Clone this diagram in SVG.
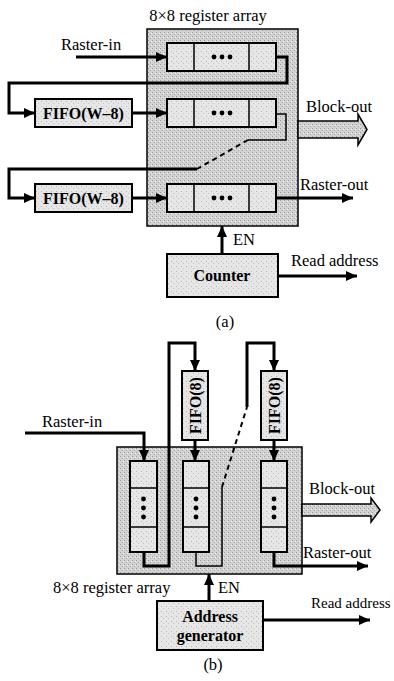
<svg xmlns="http://www.w3.org/2000/svg" width="394" height="681" viewBox="0 0 394 681">
<defs>
<pattern id="dark" width="4" height="4" patternUnits="userSpaceOnUse">
<rect width="4" height="4" fill="#d2d2d2"/>
<rect x="0" y="0" width="1" height="1" fill="#9a9a9a"/>
<rect x="2" y="2" width="1" height="1" fill="#a8a8a8"/>
<rect x="3" y="1" width="1" height="1" fill="#f0f0f0"/>
</pattern>
<pattern id="light" width="5" height="5" patternUnits="userSpaceOnUse">
<rect width="5" height="5" fill="#e6e6e6"/>
<rect x="1" y="1" width="1" height="1" fill="#b8b8b8"/>
<rect x="3" y="3" width="1" height="1" fill="#c4c4c4"/>
</pattern>
<marker id="ah" markerUnits="userSpaceOnUse" markerWidth="11" markerHeight="10" refX="11" refY="5" orient="auto">
<path d="M0,0 L11,5 L0,10 z" fill="#000"/>
</marker>
</defs>
<style>
.t{font-family:"Liberation Serif","Times New Roman",serif;font-size:16.5px;fill:#000}
.b{font-family:"Liberation Serif","Times New Roman",serif;font-size:16px;font-weight:bold;fill:#000}
.big{fill:url(#dark);stroke:#000;stroke-width:1.5}
.box{fill:url(#light);stroke:#000;stroke-width:2}
.w{fill:none;stroke:#000;stroke-width:3}
.th{fill:none;stroke:#000;stroke-width:1.5}
.ds{fill:none;stroke:#000;stroke-width:2;stroke-dasharray:5,4}
.bo{fill:url(#dark);stroke:#000;stroke-width:1.5}
</style>

<!-- (a) -->
<g id="a-array">
<rect class="big" x="147" y="29" width="151" height="197"/>
<text class="t" x="208" y="21" text-anchor="middle">8×8 register array</text>
</g>
<g id="a-row1">
<rect class="box" x="167" y="43" width="109" height="28"/>
<line class="th" x1="194" y1="43" x2="194" y2="71"/><line class="th" x1="249" y1="43" x2="249" y2="71"/>
<circle cx="214" cy="57" r="2.4"/><circle cx="222" cy="57" r="2.4"/><circle cx="230" cy="57" r="2.4"/>
</g>
<g id="a-row2">
<rect class="box" x="167" y="99" width="109" height="28"/>
<line class="th" x1="194" y1="99" x2="194" y2="127"/><line class="th" x1="249" y1="99" x2="249" y2="127"/>
<circle cx="214" cy="113" r="2.4"/><circle cx="222" cy="113" r="2.4"/><circle cx="230" cy="113" r="2.4"/>
</g>
<g id="a-row3">
<rect class="box" x="167" y="184" width="109" height="28"/>
<line class="th" x1="194" y1="184" x2="194" y2="212"/><line class="th" x1="249" y1="184" x2="249" y2="212"/>
<circle cx="214" cy="198" r="2.4"/><circle cx="222" cy="198" r="2.4"/><circle cx="230" cy="198" r="2.4"/>
</g>
<g id="a-fifo1">
<rect class="box" x="35" y="99" width="97" height="28"/>
<text class="b" x="83.5" y="119" text-anchor="middle">FIFO(W–8)</text>
</g>
<g id="a-fifo2">
<rect class="box" x="35" y="184" width="97" height="28"/>
<text class="b" x="83.5" y="204" text-anchor="middle">FIFO(W–8)</text>
</g>
<g id="a-counter">
<rect class="box" x="167" y="254" width="111" height="43"/>
<text class="b" x="222" y="281" text-anchor="middle">Counter</text>
</g>
<g id="a-labels">
<text class="t" x="61" y="50">Raster-in</text>
<text class="t" x="306" y="112">Block-out</text>
<text class="t" x="300" y="190">Raster-out</text>
<text class="t" x="233" y="245">EN</text>
<text class="t" x="291" y="266">Read address</text>
<text class="t" x="225" y="327" text-anchor="middle">(a)</text>
</g>
<g id="a-connectors">
<path class="w" d="M76,57 H167" marker-end="url(#ah)"/>
<path class="w" d="M276,57 H287 V83 H9 V113 H35" marker-end="url(#ah)"/>
<path class="w" d="M132,113 H167" marker-end="url(#ah)"/>
<path class="th" d="M276,114 H286 V140 H248"/>
<path class="ds" d="M248,140 L197,169"/>
<path class="w" d="M197,169 H9 V198 H35" marker-end="url(#ah)"/>
<path class="w" d="M132,198 H167" marker-end="url(#ah)"/>
<path class="w" d="M276,198 H353" marker-end="url(#ah)"/>
<path class="w" d="M222,254 V226" marker-end="url(#ah)"/>
<path class="w" d="M278,276 H357" marker-end="url(#ah)"/>
<path class="bo" d="M298,121 H358 V114 L367,129.5 L358,145 V138 H298 z"/>
</g>

<!-- (b) -->
<g id="b-array">
<rect class="big" x="117" y="447" width="185" height="127"/>
<text class="t" x="53" y="593">8×8 register array</text>
</g>
<g id="b-col1">
<rect class="box" x="130" y="461" width="27" height="91"/>
<line class="th" x1="130" y1="488" x2="157" y2="488"/><line class="th" x1="130" y1="527" x2="157" y2="527"/>
<circle cx="143.5" cy="499" r="2.4"/><circle cx="143.5" cy="508" r="2.4"/><circle cx="143.5" cy="517" r="2.4"/>
</g>
<g id="b-col2">
<rect class="box" x="183" y="461" width="26" height="91"/>
<line class="th" x1="183" y1="488" x2="209" y2="488"/><line class="th" x1="183" y1="527" x2="209" y2="527"/>
<circle cx="196" cy="499" r="2.4"/><circle cx="196" cy="508" r="2.4"/><circle cx="196" cy="517" r="2.4"/>
</g>
<g id="b-col3">
<rect class="box" x="261" y="461" width="26" height="91"/>
<line class="th" x1="261" y1="488" x2="287" y2="488"/><line class="th" x1="261" y1="527" x2="287" y2="527"/>
<circle cx="274" cy="499" r="2.4"/><circle cx="274" cy="508" r="2.4"/><circle cx="274" cy="517" r="2.4"/>
</g>
<g id="b-fifo1">
<rect class="box" x="182" y="371" width="26" height="69"/>
<text class="b" transform="translate(200.5,405.5) rotate(-90)" text-anchor="middle">FIFO(8)</text>
</g>
<g id="b-fifo2">
<rect class="box" x="261" y="371" width="26" height="69"/>
<text class="b" transform="translate(279.5,405.5) rotate(-90)" text-anchor="middle">FIFO(8)</text>
</g>
<g id="b-addrgen">
<rect class="box" x="157" y="601" width="106" height="49"/>
<text class="b" x="210" y="622" text-anchor="middle">Address</text>
<text class="b" x="210" y="641" text-anchor="middle">generator</text>
</g>
<g id="b-labels">
<text class="t" x="42" y="427">Raster-in</text>
<text class="t" x="309" y="494">Block-out</text>
<text class="t" x="303" y="558">Raster-out</text>
<text class="t" x="218" y="593">EN</text>
<text class="t" x="311" y="608" style="font-size:15px">Read address</text>
<text class="t" x="213" y="670" text-anchor="middle">(b)</text>
</g>
<g id="b-connectors">
<path class="w" d="M25,433 H144 V461" marker-end="url(#ah)"/>
<path class="w" d="M144,552 V566 H169 V343 H195 V371" marker-end="url(#ah)"/>
<path class="w" d="M195,440 V461" marker-end="url(#ah)"/>
<path class="th" d="M196,552 V566 H222 V487"/>
<path class="ds" d="M222,487 L247,407"/>
<path class="w" d="M247,407 V343 H274 V371" marker-end="url(#ah)"/>
<path class="w" d="M274,440 V461" marker-end="url(#ah)"/>
<path class="w" d="M274,552 V566 H368" marker-end="url(#ah)"/>
<path class="w" d="M209,601 V574" marker-end="url(#ah)"/>
<path class="w" d="M263,620 H370" marker-end="url(#ah)"/>
<path class="bo" d="M302,504 H371 V498 L380,510 L371,522 V516 H302 z"/>
</g>
</svg>
